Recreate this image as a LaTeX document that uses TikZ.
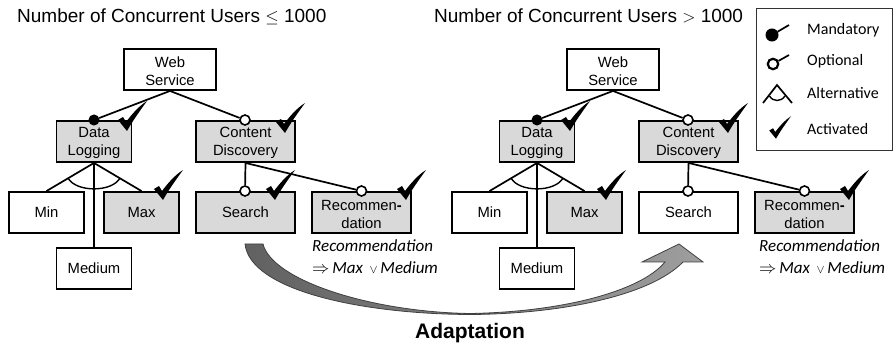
\documentclass[tikz,border=0pt]{standalone}
\usepackage{fontspec}
\setmainfont{Liberation Sans}
\newfontfamily\notefont{Carlito}
\usetikzlibrary{shadings}
\newcommand{\lowtext}{\rule{0pt}{14pt}}
\tikzset{
  feat/.style={draw=black,line width=1.9pt,fill=white,align=center,inner sep=0pt,
    font=\fontsize{14.8}{18}\selectfont},
  active/.style={fill=black!15},
  wide/.style={minimum width=99pt,minimum height=41pt},
  narrow/.style={minimum width=75pt,minimum height=41pt},
  link/.style={draw=black,line width=1.7pt},
  opt/.style={circle,draw=black,fill=white,line width=1.6pt,minimum size=10pt,inner sep=0pt},
  man/.style={circle,draw=black,fill=black,line width=1pt,minimum size=10pt,inner sep=0pt},
  title/.style={anchor=base west,inner sep=0pt,font=\fontsize{19}{22}\selectfont},
  note/.style={anchor=base west,inner sep=0pt,font=\notefont\itshape\fontsize{17}{20}\selectfont},
  legendtext/.style={anchor=base west,inner sep=0pt,font=\notefont\fontsize{16}{19}\selectfont},
}
% check mark with its lowest point at #2, scaled by #1
\newcommand{\chk}[2][1]{%
  \fill[black,shift={#2},scale=#1] (-7,-10) -- (-2,-13) -- (1,-8) .. controls (7,-16) and (14,-24) .. (22,-29)
    .. controls (14,-18) and (7,-8) .. (2,1) -- cycle;}
% #1 prefix, #2 shift, #3 Search style, #4 extra checks, #5 note shift
\newcommand{\panel}[5]{%
\begin{scope}[xshift=#2pt]
  \node[feat,minimum width=92pt,minimum height=41pt] (#1web) at (170,69.5) {\lowtext Web\\Service};
  \node[feat,narrow,active] (#1data) at (94,141.5) {\lowtext Data\\Logging};
  \node[feat,wide,active] (#1content) at (245.5,141.5) {\lowtext Content\\Discovery};
  \node[feat,narrow] (#1min) at (46.5,212.5) {Min};
  \node[feat,narrow,active] (#1max) at (141.5,212.5) {Max};
  \node[feat,wide,#3] (#1search) at (245.5,212.5) {Search};
  \node[feat,wide,active] (#1rec) at (361.5,212.5) {\lowtext Recommen\textbf{-}\\dation};
  \node[feat,narrow] (#1med) at (94,268.5) {Medium};
  \node[man] (#1mdata) at (94,120) {};
  \node[opt] (#1ocontent) at (245,120) {};
  \node[opt] (#1osearch) at (245,191) {};
  \node[opt] (#1orec) at (361.5,191) {};
  \draw[link] (#1web.south) -- (#1mdata);
  \draw[link] (#1web.south) -- (#1ocontent);
  \draw[link] (#1content.south) -- (#1osearch);
  \draw[link] (#1content.south) -- (#1orec);
  \draw[link] (#1data.south) -- (#1min.north);
  \draw[link] (#1data.south) -- (#1max.north);
  \draw[link] (#1data.south) -- (#1med.north);
  \draw[link,line width=1.4pt] (68,178) .. controls (76,192.5) and (112,192.5) .. (120,178);
  \node[note] (#1note1) at (#5+312,252) {Recommendation};
  \node[note] (#1note2) at (#5+312,273) {$\Rightarrow$\,Max\ \,$\scriptstyle\vee$\,Medium};
  \chk{(125,130)}
  \chk{(283,132)}
  \chk{(161,199)}
  \chk{(404,199)}
  #4
\end{scope}}
\begin{document}
\begin{tikzpicture}[x=1pt,y=-1pt]
\useasboundingbox (0,0) rectangle (893,344);
% adaptation arrow
\shade[left color=black!62,right color=black!38,draw=black!75,line width=0.8pt]
  (245,244) -- (263,244) .. controls (272,280) and (370,312) .. (470,313.5)
  .. controls (560,312) and (640,292) .. (665,262) -- (642,262) -- (679,244) -- (703,262) -- (683,262)
  .. controls (650,296) and (560,314) .. (470,314.5)
  .. controls (360,314) and (250,290) .. (245,244) -- cycle;
\panel{l}{0}{active}{\chk{(273,199)}}{0}
\panel{r}{443}{}{}{4}
\node[title] (tleft) at (17,23) {Number of Concurrent Users $\leq$ 1000};
\node[title] (tright) at (434,23) {Number of Concurrent Users $>$ 1000};
\node[anchor=base,inner sep=0pt,font=\bfseries\fontsize{21}{24}\selectfont] (adapt) at (470,338) {Adaptation};
% legend
\node[draw=black!80,line width=0.9pt,minimum width=135.5pt,minimum height=142pt,inner sep=0pt] (legend) at (824.2,79.5) {};
\node[legendtext] (lg1) at (807,35) {Mandatory};
\node[legendtext] (lg2) at (807,66) {Optional};
\node[legendtext] (lg3) at (807,99) {Alternative};
\node[legendtext] (lg4) at (807,135) {Activated};
\node[man,minimum size=12pt] (lgm) at (772,35) {};
\coordinate (lgme) at (789,25);
\draw[link] (lgm) -- (lgme);
\node[opt,minimum size=10.5pt,line width=2.2pt] (lgo) at (773,64) {};
\coordinate (lgoe) at (789,55);
\draw[link] (lgo) -- (lgoe);
\coordinate (lga) at (777,85);
\coordinate (lgal) at (763,103);
\coordinate (lgar) at (792,103);
\draw[link,line width=1.7pt] (lgal) -- (lga) -- (lgar);
\draw[line width=1.4pt] (769.5,96) .. controls (773,102) and (781,102) .. (785,96);
\chk[0.75]{(774.5,138)}
\end{tikzpicture}
\end{document}
